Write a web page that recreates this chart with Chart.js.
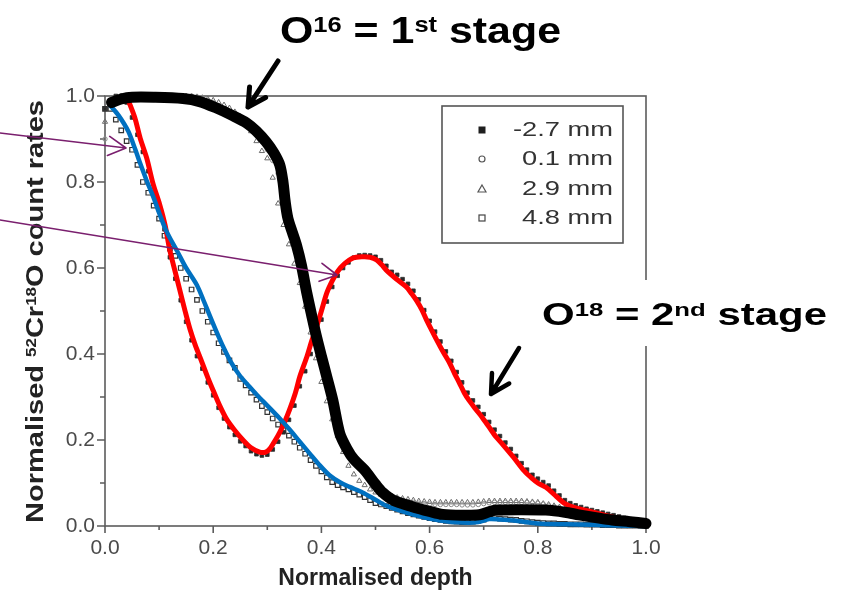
<!DOCTYPE html>
<html>
<head>
<meta charset="utf-8">
<script src="https://cdn.jsdelivr.net/npm/chart.js@4.4.1/dist/chart.umd.min.js"></script>
<style>
  html, body { margin: 0; padding: 0; background: #fff; }
  #wrap { width: 848px; height: 596px; }
</style>
</head>
<body>
<div id="wrap"><canvas id="depthChart" width="848" height="596"></canvas></div>
<script>
// Normalised 52Cr18O depth profiles at four positions, with hand-drawn guide traces

const depth = [
  0.00, 0.01, 0.02, 0.03, 0.04, 0.05, 0.06, 0.07, 0.08, 0.09,
  0.10, 0.11, 0.12, 0.13, 0.14, 0.15, 0.16, 0.17, 0.18, 0.19,
  0.20, 0.21, 0.22, 0.23, 0.24, 0.25, 0.26, 0.27, 0.28, 0.29,
  0.30, 0.31, 0.32, 0.33, 0.34, 0.35, 0.36, 0.37, 0.38, 0.39,
  0.40, 0.41, 0.42, 0.43, 0.44, 0.45, 0.46, 0.47, 0.48, 0.49,
  0.50, 0.51, 0.52, 0.53, 0.54, 0.55, 0.56, 0.57, 0.58, 0.59,
  0.60, 0.61, 0.62, 0.63, 0.64, 0.65, 0.66, 0.67, 0.68, 0.69,
  0.70, 0.71, 0.72, 0.73, 0.74, 0.75, 0.76, 0.77, 0.78, 0.79,
  0.80, 0.81, 0.82, 0.83, 0.84, 0.85, 0.86, 0.87, 0.88, 0.89,
  0.90, 0.91, 0.92, 0.93, 0.94, 0.95, 0.96, 0.97, 0.98, 0.99,
  1.00
];

// -2.7 mm
const rateM27 = [
  0.97, 0.99, 1.00, 1.00, 0.985, 0.95, 0.91, 0.87, 0.825, 0.775,
  0.735, 0.69, 0.625, 0.575, 0.525, 0.475, 0.432, 0.395, 0.366, 0.334,
  0.304, 0.275, 0.25, 0.23, 0.212, 0.197, 0.186, 0.174, 0.167, 0.164,
  0.166, 0.178, 0.196, 0.218, 0.247, 0.28, 0.325, 0.36, 0.40, 0.44,
  0.48, 0.522, 0.556, 0.582, 0.60, 0.613, 0.624, 0.629, 0.63, 0.629,
  0.626, 0.618, 0.605, 0.591, 0.584, 0.574, 0.563, 0.547, 0.527, 0.502,
  0.477, 0.452, 0.429, 0.406, 0.384, 0.358, 0.334, 0.31, 0.292, 0.277,
  0.26, 0.242, 0.224, 0.209, 0.194, 0.179, 0.163, 0.146, 0.131, 0.119,
  0.11, 0.102, 0.094, 0.082, 0.071, 0.06, 0.053, 0.048, 0.044, 0.04,
  0.037, 0.034, 0.031, 0.028, 0.025, 0.022, 0.019, 0.016, 0.013, 0.01,
  0.008
];

// 0.1 mm
const rateP01 = [
  0.90, 0.985, 0.995, 1.00, 1.00, 1.00, 1.00, 1.00, 1.00, 1.00,
  1.00, 1.00, 1.00, 1.00, 1.00, 1.00, 1.00, 0.998, 0.996, 0.99,
  0.985, 0.978, 0.97, 0.962, 0.955, 0.945, 0.935, 0.922, 0.91, 0.895,
  0.875, 0.85, 0.82, 0.77, 0.71, 0.665, 0.625, 0.56, 0.49, 0.445,
  0.395, 0.35, 0.30, 0.235, 0.19, 0.165, 0.148, 0.135, 0.122, 0.108,
  0.095, 0.085, 0.077, 0.07, 0.065, 0.06, 0.057, 0.055, 0.053, 0.052,
  0.051, 0.05, 0.05, 0.05, 0.05, 0.05, 0.049, 0.049, 0.049, 0.05,
  0.052, 0.054, 0.055, 0.055, 0.055, 0.055, 0.055, 0.055, 0.055, 0.054,
  0.053, 0.051, 0.048, 0.045, 0.042, 0.039, 0.036, 0.033, 0.03, 0.027,
  0.024, 0.021, 0.018, 0.016, 0.014, 0.012, 0.01, 0.008, 0.007, 0.006,
  0.005
];

// 2.9 mm
const rateP29 = [
  0.94, 0.98, 0.995, 1.00, 1.00, 1.00, 1.00, 1.00, 1.00, 1.00,
  1.00, 1.00, 1.00, 1.00, 1.00, 1.00, 0.999, 0.998, 0.996, 0.993,
  0.99, 0.985, 0.979, 0.972, 0.963, 0.952, 0.938, 0.918, 0.895, 0.872,
  0.855, 0.81, 0.75, 0.70, 0.655, 0.61, 0.565, 0.51, 0.45, 0.39,
  0.335, 0.29, 0.248, 0.21, 0.172, 0.14, 0.12, 0.105, 0.095, 0.085,
  0.078, 0.073, 0.07, 0.068, 0.066, 0.064, 0.062, 0.06, 0.058, 0.057,
  0.056, 0.055, 0.055, 0.055, 0.055, 0.055, 0.055, 0.055, 0.055, 0.056,
  0.057, 0.058, 0.058, 0.058, 0.058, 0.058, 0.058, 0.058, 0.057, 0.056,
  0.055, 0.052, 0.05, 0.047, 0.044, 0.04, 0.037, 0.034, 0.031, 0.028,
  0.025, 0.022, 0.019, 0.016, 0.014, 0.012, 0.01, 0.008, 0.006, 0.005,
  0.004
];

// 4.8 mm
const rateP48 = [
  0.97, 0.97, 0.945, 0.92, 0.895, 0.875, 0.84, 0.80, 0.775, 0.745,
  0.715, 0.675, 0.645, 0.628, 0.60, 0.575, 0.55, 0.526, 0.50, 0.475,
  0.45, 0.425, 0.405, 0.385, 0.368, 0.342, 0.327, 0.31, 0.294, 0.279,
  0.265, 0.25, 0.236, 0.223, 0.21, 0.196, 0.182, 0.168, 0.153, 0.14,
  0.127, 0.113, 0.102, 0.095, 0.09, 0.085, 0.079, 0.073, 0.067, 0.06,
  0.053, 0.05, 0.046, 0.042, 0.038, 0.034, 0.03, 0.027, 0.024, 0.021,
  0.018, 0.016, 0.014, 0.012, 0.011, 0.01, 0.009, 0.009, 0.01, 0.012,
  0.015, 0.018, 0.018, 0.017, 0.016, 0.015, 0.014, 0.012, 0.011, 0.009,
  0.008, 0.007, 0.006, 0.006, 0.005, 0.005, 0.004, 0.004, 0.004, 0.003,
  0.003, 0.003, 0.002, 0.002, 0.002, 0.001, 0.001, 0.001, 0.001, 0.0,
  0.0
];

const seriesLabels = ['-2.7 mm', '0.1 mm', '2.9 mm', '4.8 mm'];

// guide traces drawn over the profiles: [depth, rate]
const traceO16 = [
  [0.012, 0.985], [0.03, 0.993], [0.05, 0.997], [0.09, 0.997], [0.144, 0.994],
  [0.175, 0.987], [0.206, 0.972], [0.235, 0.955], [0.262, 0.937], [0.28, 0.918],
  [0.298, 0.893], [0.312, 0.868], [0.323, 0.84], [0.329, 0.80], [0.333, 0.755],
  [0.338, 0.716], [0.346, 0.684], [0.354, 0.653], [0.363, 0.607], [0.373, 0.542],
  [0.382, 0.49], [0.391, 0.44], [0.40, 0.395], [0.41, 0.347], [0.421, 0.293],
  [0.434, 0.215], [0.447, 0.18], [0.46, 0.155], [0.48, 0.13], [0.50, 0.097],
  [0.513, 0.078], [0.533, 0.06], [0.568, 0.045], [0.60, 0.034], [0.624, 0.027],
  [0.66, 0.025], [0.692, 0.026], [0.71, 0.033], [0.723, 0.037], [0.77, 0.038],
  [0.815, 0.037], [0.85, 0.032], [0.876, 0.026], [0.91, 0.019], [0.937, 0.014],
  [0.97, 0.01], [1.0, 0.006]
];

const traceO18 = [
  [0.043, 0.99], [0.055, 0.95], [0.065, 0.902], [0.077, 0.856], [0.089, 0.795],
  [0.101, 0.748], [0.111, 0.70], [0.12, 0.64], [0.13, 0.59], [0.138, 0.55],
  [0.148, 0.50], [0.157, 0.458], [0.167, 0.42], [0.177, 0.388], [0.19, 0.345],
  [0.20, 0.315], [0.212, 0.28], [0.225, 0.248], [0.24, 0.222], [0.255, 0.20],
  [0.27, 0.182], [0.286, 0.172], [0.297, 0.172], [0.305, 0.18], [0.315, 0.20],
  [0.323, 0.218], [0.333, 0.245], [0.341, 0.27], [0.352, 0.31], [0.36, 0.347],
  [0.373, 0.393], [0.382, 0.43], [0.391, 0.463], [0.40, 0.50], [0.41, 0.542],
  [0.42, 0.57], [0.43, 0.592], [0.443, 0.61], [0.458, 0.623], [0.476, 0.626],
  [0.49, 0.625], [0.502, 0.619], [0.512, 0.607], [0.52, 0.595], [0.538, 0.575],
  [0.557, 0.556], [0.567, 0.54], [0.576, 0.524], [0.586, 0.502], [0.594, 0.48],
  [0.604, 0.455], [0.613, 0.433], [0.625, 0.405], [0.637, 0.379], [0.646, 0.355],
  [0.655, 0.333], [0.664, 0.31], [0.673, 0.292], [0.685, 0.272], [0.697, 0.253],
  [0.71, 0.23], [0.723, 0.207], [0.735, 0.19], [0.755, 0.16], [0.775, 0.128],
  [0.79, 0.11], [0.80, 0.10], [0.815, 0.09], [0.835, 0.068], [0.85, 0.052],
  [0.87, 0.042], [0.90, 0.033], [0.937, 0.021], [0.97, 0.013], [1.0, 0.007]
];

const traceSurface = [
  [0.009, 0.979], [0.025, 0.955], [0.043, 0.918], [0.055, 0.879], [0.066, 0.84],
  [0.078, 0.80], [0.09, 0.763], [0.101, 0.725], [0.112, 0.69], [0.122, 0.665],
  [0.133, 0.64], [0.15, 0.60], [0.17, 0.56], [0.182, 0.525], [0.194, 0.488],
  [0.206, 0.452], [0.218, 0.418], [0.232, 0.383], [0.249, 0.35], [0.265, 0.327],
  [0.28, 0.306], [0.30, 0.28], [0.323, 0.25], [0.34, 0.226], [0.36, 0.196],
  [0.38, 0.166], [0.397, 0.141], [0.415, 0.118], [0.435, 0.101], [0.452, 0.091],
  [0.476, 0.078], [0.50, 0.061], [0.52, 0.047], [0.55, 0.034], [0.587, 0.021],
  [0.62, 0.013], [0.66, 0.008], [0.69, 0.009], [0.71, 0.016], [0.73, 0.015],
  [0.76, 0.012], [0.80, 0.006], [0.85, 0.004], [0.90, 0.003], [0.95, 0.001],
  [1.0, 0.0]
];

const xTickValues = [0.0, 0.2, 0.4, 0.6, 0.8, 1.0];
const xMinorValues = [0.1, 0.3, 0.5, 0.7, 0.9];
const yTickValues = [0.0, 0.2, 0.4, 0.6, 0.8, 1.0];
const yMinorValues = [0.1, 0.3, 0.5, 0.7, 0.9];

const FONT = '"Liberation Sans", Arial, Helvetica, sans-serif';
Chart.defaults.font.family = FONT;

const toPoints = ys => ys.map((v, i) => ({ x: depth[i], y: v }));
const pairsToPoints = arr => arr.map(p => ({ x: p[0], y: p[1] }));

function trace(data, color, width, order) {
  return {
    data: pairsToPoints(data),
    showLine: true,
    borderColor: color,
    backgroundColor: color,
    borderWidth: width,
    pointRadius: 0,
    tension: 0.3,
    borderCapStyle: 'round',
    borderJoinStyle: 'round',
    clip: 12,
    order: order
  };
}

const markerSets = [
  { label: seriesLabels[0], data: toPoints(rateM27), pointStyle: 'rect', pointRadius: 2.6,
    backgroundColor: '#2a2a2a', borderColor: '#2a2a2a', borderWidth: 0.8, order: 10 },
  { label: seriesLabels[1], data: toPoints(rateP01), pointStyle: 'circle', pointRadius: 2.2,
    backgroundColor: 'rgba(255,255,255,0)', borderColor: '#8a8a8a', borderWidth: 1, order: 11 },
  { label: seriesLabels[2], data: toPoints(rateP29), pointStyle: 'triangle', pointRadius: 3,
    backgroundColor: 'rgba(255,255,255,0)', borderColor: '#6c6c6c', borderWidth: 1, order: 12 },
  { label: seriesLabels[3], data: toPoints(rateP48), pointStyle: 'rect', pointRadius: 3.2,
    backgroundColor: '#ffffff', borderColor: '#333333', borderWidth: 1.2, order: 13 }
];
markerSets.forEach(d => { d.clip = 8; });

// axis frame and outward tick marks
const frameTicks = {
  id: 'frameTicks',
  beforeDatasetsDraw(chart) {
    const { ctx: c, chartArea: a, scales: { x, y } } = chart;
    c.save();
    c.strokeStyle = '#5c5c5c';
    c.lineWidth = 1.6;
    c.strokeRect(a.left, a.top, a.right - a.left, a.bottom - a.top);
    c.beginPath();
    xTickValues.forEach(v => { const p = x.getPixelForValue(v); c.moveTo(p, a.bottom); c.lineTo(p, a.bottom + 7); });
    xMinorValues.forEach(v => { const p = x.getPixelForValue(v); c.moveTo(p, a.bottom); c.lineTo(p, a.bottom + 4); });
    yTickValues.forEach(v => { const p = y.getPixelForValue(v); c.moveTo(a.left, p); c.lineTo(a.left - 8, p); });
    yMinorValues.forEach(v => { const p = y.getPixelForValue(v); c.moveTo(a.left, p); c.lineTo(a.left - 5, p); });
    c.stroke();
    c.restore();
  }
};

// text with superscript runs, squeezed or stretched to a given width
function richText(c, parts, x, y, size, fitWidth, color) {
  c.save();
  const fonts = parts.map(p => `bold ${p[1] ? Math.round(size * 0.6) : size}px ${FONT}`);
  const widths = parts.map((p, i) => { c.font = fonts[i]; return c.measureText(p[0]).width; });
  const total = widths.reduce((s, w) => s + w, 0);
  c.translate(x, y);
  c.scale(fitWidth ? fitWidth / total : 1, 1);
  c.fillStyle = color;
  c.textBaseline = 'alphabetic';
  c.textAlign = 'left';
  let cx = 0;
  parts.forEach((p, i) => {
    c.font = fonts[i];
    c.fillText(p[0], cx, p[1] ? -size * 0.3 : 0);
    cx += widths[i];
  });
  c.restore();
}

function arrow(c, x1, y1, x2, y2, head, width, color) {
  const ang = Math.atan2(y2 - y1, x2 - x1);
  const spread = 0.5;
  c.save();
  c.strokeStyle = color;
  c.lineWidth = width;
  c.lineCap = 'round';
  c.lineJoin = 'round';
  c.beginPath();
  c.moveTo(x1, y1);
  c.lineTo(x2, y2);
  c.moveTo(x2 - head * Math.cos(ang - spread), y2 - head * Math.sin(ang - spread));
  c.lineTo(x2, y2);
  c.lineTo(x2 - head * Math.cos(ang + spread), y2 - head * Math.sin(ang + spread));
  c.stroke();
  c.restore();
}

function legendMarker(c, style, x, y) {
  c.save();
  c.lineWidth = 1.2;
  if (style === 'filled') {
    c.fillStyle = '#1e1e1e';
    c.fillRect(x - 3.5, y - 3.5, 7, 7);
  } else if (style === 'circle') {
    c.strokeStyle = '#555';
    c.beginPath(); c.arc(x, y, 3, 0, Math.PI * 2); c.stroke();
  } else if (style === 'triangle') {
    c.strokeStyle = '#555';
    c.beginPath(); c.moveTo(x, y - 4); c.lineTo(x + 4, y + 3); c.lineTo(x - 4, y + 3); c.closePath(); c.stroke();
  } else {
    c.strokeStyle = '#444';
    c.strokeRect(x - 3, y - 3, 6, 6);
  }
  c.restore();
}

const annotations = {
  id: 'annotations',
  afterDraw(chart) {
    const c = chart.ctx;

    // legend box
    c.save();
    c.fillStyle = '#fff';
    c.fillRect(442, 106, 181, 137);
    c.strokeStyle = '#555';
    c.lineWidth = 1.6;
    c.strokeRect(442, 106, 181, 137);
    const rows = [130, 159, 189, 218];
    const styles = ['filled', 'circle', 'triangle', 'open'];
    seriesLabels.forEach((lab, i) => {
      legendMarker(c, styles[i], 482, rows[i]);
      c.save();
      c.font = `21px ${FONT}`;
      c.fillStyle = '#333';
      c.textBaseline = 'middle';
      c.textAlign = 'right';
      c.translate(613, rows[i]);
      c.scale(1.3, 1);
      c.fillText(lab, 0, 0);
      c.restore();
    });
    c.restore();

    // y axis title
    c.save();
    c.translate(43, 523);
    c.rotate(-Math.PI / 2);
    richText(c, [['Normalised ', false], ['52', true], ['Cr', false], ['18', true], ['O count rates', false]],
      0, 0, 24, 423, '#222');
    c.restore();

    // stage labels
    richText(c, [['O', false], ['16', true], [' = 1', false], ['st', true], [' stage', false]],
      280, 43, 37, 281, '#000');
    c.save();
    c.fillStyle = '#fff';
    c.fillRect(532, 280, 316, 66);
    c.restore();
    richText(c, [['O', false], ['18', true], [' = 2', false], ['nd', true], [' stage', false]],
      542, 325, 31, 285, '#000');

    // pointer arrows
    arrow(c, 278, 61, 248, 107, 20, 5, '#000');
    arrow(c, 519, 348, 491, 394, 21, 4.5, '#000');
    arrow(c, 0, 133, 126, 148, 20, 1.6, '#7a1f6e');
    arrow(c, 0, 220, 337, 275, 19, 1.6, '#7a1f6e');
  }
};

new Chart(document.getElementById('depthChart'), {
  type: 'scatter',
  data: {
    datasets: [
      trace(traceO16, '#000000', 11, 0),
      trace(traceSurface, '#0070c0', 4.5, 1),
      trace(traceO18, '#ff0000', 5, 2),
      ...markerSets
    ]
  },
  options: {
    responsive: false,
    animation: false,
    devicePixelRatio: 1,
    events: [],
    layout: { padding: { left: 0, top: 96, right: 202, bottom: 0 } },
    plugins: { legend: { display: false }, tooltip: { enabled: false } },
    scales: {
      x: {
        type: 'linear',
        min: 0, max: 1,
        afterBuildTicks: axis => { axis.ticks = xTickValues.map(v => ({ value: v })); },
        afterFit: scale => { scale.height = 70; },
        grid: { display: false, drawTicks: false },
        border: { display: false },
        ticks: {
          color: '#4a4a4a', padding: 10, maxRotation: 0, autoSkip: false,
          font: { size: 21 },
          callback: v => v.toFixed(1)
        },
        title: {
          display: true, text: 'Normalised depth', color: '#222',
          font: { size: 23, weight: 'bold' }, padding: { top: 0, bottom: 4 }
        }
      },
      y: {
        type: 'linear',
        min: 0, max: 1,
        afterBuildTicks: axis => { axis.ticks = yTickValues.map(v => ({ value: v })); },
        afterFit: scale => { scale.width = 105; },
        grid: { display: false, drawTicks: false },
        border: { display: false },
        ticks: {
          color: '#4a4a4a', padding: 10, autoSkip: false,
          font: { size: 21 },
          callback: v => v.toFixed(1)
        }
      }
    }
  },
  plugins: [frameTicks, annotations]
});
</script>
</body>
</html>
